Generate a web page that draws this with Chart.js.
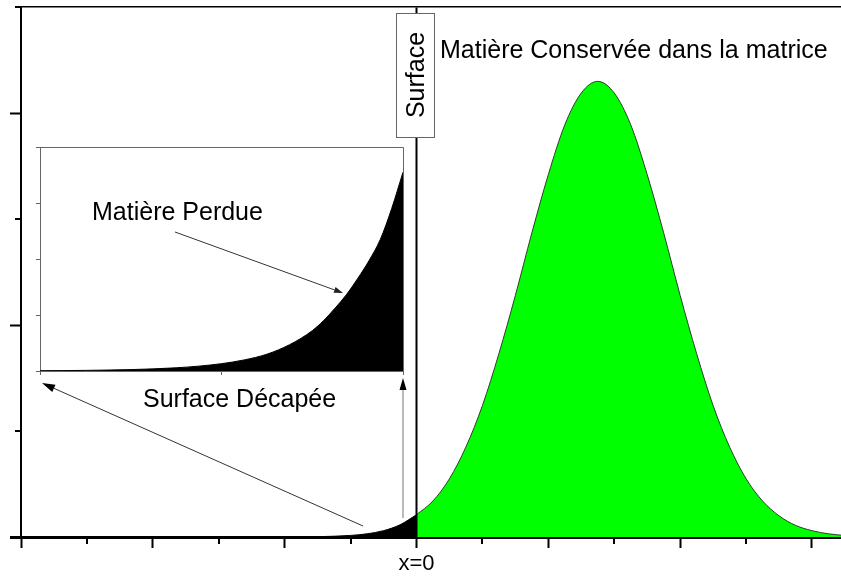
<!DOCTYPE html>
<html><head><meta charset="utf-8">
<script src="https://cdn.jsdelivr.net/npm/chart.js@4.4.1/dist/chart.umd.min.js"></script>
<style>
html,body{margin:0;padding:0;background:#fff;}
#wrap{position:relative;width:841px;height:576px;overflow:hidden;}
#main{position:absolute;left:0;top:0;}
#inset{position:absolute;left:20px;top:130px;}
</style></head><body>
<div id="wrap"><canvas id="main" width="841" height="576"></canvas><canvas id="inset" width="400" height="260"></canvas></div>
<script>
const FONT = '"Liberation Sans", Arial, sans-serif';

// Main profile: part kept in the matrix (x >= 0)
const conservedX = [0,0.25,0.5,0.75,1,1.25,1.5,1.75,2,2.25,2.5,2.75,3,3.25,3.5,3.75,4,4.25,4.5,4.75,5,5.25,5.5,5.75,6,6.25,6.5];
const conservedY = [0.21,0.34,0.55,0.85,1.24,1.73,2.28,2.87,3.42,3.89,4.19,4.30,4.19,3.89,3.42,2.87,2.28,1.73,1.24,0.85,0.55,0.34,0.20,0.11,0.06,0.03,0.014];
// Main profile: part lost (x <= 0)
const lostX = [-3,-2,-1.5,-1,-0.75,-0.5,-0.25,0];
const lostY = [0,0.0005,0.003,0.015,0.03,0.06,0.115,0.21];
// Surface line x = 0
const surfaceX = [0,0];
const surfaceY = [0,5];
// Tick labels / minor ticks of main axes
const xTickLabels = ['','','','x=0','','',''];
const xMinorTicks = [-5,-3,-1,1,3,5];
const yMinorTicks = [1,3,5];

// Inset: zoom on the lost tail
const insetX = [-2,-1.875,-1.75,-1.625,-1.5,-1.375,-1.25,-1.125,-1,-0.875,-0.75,-0.625,-0.5,-0.4375,-0.375,-0.3125,-0.25,-0.1875,-0.125,-0.0625,0];
const insetY = [0.005,0.007,0.011,0.017,0.025,0.038,0.057,0.087,0.131,0.198,0.30,0.47,0.72,0.90,1.12,1.36,1.65,1.97,2.35,2.90,3.55];

const pts = (xs, ys) => xs.map((x, i) => ({x: x, y: ys[i]}));

function arrow(ctx, x1, y1, x2, y2, lineColor, headColor, headLen, headW) {
  const ang = Math.atan2(y2 - y1, x2 - x1);
  const bx = x2 - headLen * Math.cos(ang), by = y2 - headLen * Math.sin(ang);
  ctx.strokeStyle = lineColor; ctx.lineWidth = 1;
  ctx.beginPath(); ctx.moveTo(x1, y1); ctx.lineTo(bx, by); ctx.stroke();
  ctx.fillStyle = headColor;
  ctx.beginPath(); ctx.moveTo(x2, y2);
  ctx.lineTo(bx + headW * Math.sin(ang), by - headW * Math.cos(ang));
  ctx.lineTo(bx - headW * Math.sin(ang), by + headW * Math.cos(ang));
  ctx.closePath(); ctx.fill();
}

const mainDecor = {
  id: 'mainDecor',
  afterDraw(chart) {
    const {ctx, scales: {x, y}, chartArea: a} = chart;
    ctx.save();
    ctx.strokeStyle = '#000'; ctx.lineWidth = 2;
    xMinorTicks.forEach(v => {
      const px = Math.round(x.getPixelForValue(v));
      ctx.beginPath(); ctx.moveTo(px, a.bottom); ctx.lineTo(px, a.bottom + 7); ctx.stroke();
    });
    yMinorTicks.forEach(v => {
      const py = Math.round(y.getPixelForValue(v));
      ctx.beginPath(); ctx.moveTo(a.left, py); ctx.lineTo(a.left - 6, py); ctx.stroke();
    });
    // Surface box
    const x0 = x.getPixelForValue(0);
    ctx.fillStyle = '#fff';
    ctx.fillRect(x0 - 20, 13, 38, 124);
    ctx.strokeStyle = '#666'; ctx.lineWidth = 1;
    ctx.strokeRect(Math.round(x0 - 20) + 0.5, 13.5, 38, 124);
    ctx.fillStyle = '#000';
    ctx.font = '25px ' + FONT;
    ctx.save(); ctx.translate(x0 + 8, 75); ctx.rotate(-Math.PI / 2);
    ctx.textAlign = 'center'; ctx.textBaseline = 'alphabetic';
    ctx.fillText('Surface', 0, 0); ctx.restore();
    ctx.textAlign = 'left'; ctx.textBaseline = 'alphabetic';
    ctx.fillText('Matière Conservée dans la matrice', 440, 58);
    ctx.fillText('Surface Décapée', 143, 407);
    // arrows
    arrow(ctx, 363, 526, 42, 383, '#333', '#000', 13, 4);
    arrow(ctx, 403, 518, 403, 378, '#777', '#000', 12, 3.5);
    ctx.restore();
  }
};

new Chart(document.getElementById('main'), {
  type: 'line',
  data: {datasets: [
    {data: pts(surfaceX, surfaceY), borderColor: '#000', borderWidth: 2, pointRadius: 0, fill: false},
    {data: pts(conservedX, conservedY), borderColor: '#2b3f2b', borderWidth: 1, backgroundColor: '#00ff00', fill: 'origin', pointRadius: 0, cubicInterpolationMode: 'monotone'},
    {data: pts(lostX, lostY), borderColor: '#000', borderWidth: 1, backgroundColor: '#000', fill: 'origin', pointRadius: 0, cubicInterpolationMode: 'monotone'}
  ]},
  options: {
    responsive: false, animation: false, devicePixelRatio: 1,
    layout: {padding: 0},
    plugins: {legend: {display: false}, tooltip: {enabled: false}},
    scales: {
      x: {type: 'linear', position: 'bottom', min: -6, max: 6.44, z: 1,
          afterFit: s => { s.height = 39; },
          ticks: {stepSize: 2, includeBounds: false, autoSkip: false, maxRotation: 0, padding: 3, color: '#000',
                  font: {family: FONT, size: 22}, callback: (v, i) => xTickLabels[i] || ''},
          grid: {drawOnChartArea: false, tickLength: 11, tickWidth: 2, tickColor: '#000'},
          border: {display: true, color: '#000', width: 3}},
      xTop: {type: 'linear', position: 'top', min: -6, max: 6.44,
          afterFit: s => { s.height = 7; },
          ticks: {display: false}, grid: {display: false},
          border: {display: true, color: '#000', width: 1.5}},
      y: {type: 'linear', min: 0, max: 5, z: 1,
          afterFit: s => { s.width = 21; },
          ticks: {stepSize: 2, includeBounds: false, padding: 0, callback: () => ''},
          grid: {drawOnChartArea: false, tickLength: 11, tickColor: '#000',
                 tickWidth: c => (c.tick && c.tick.value === 0) ? 3 : 2},
          border: {display: true, color: '#000', width: 2}}
    }
  },
  plugins: [mainDecor]
});

const insetDecor = {
  id: 'insetDecor',
  afterDraw(chart) {
    const {ctx, chartArea: a} = chart;
    ctx.save();
    ctx.strokeStyle = '#666'; ctx.lineWidth = 1;
    ctx.beginPath();
    ctx.moveTo(a.left, a.top + 0.5); ctx.lineTo(a.right + 0.5, a.top + 0.5); ctx.lineTo(a.right + 0.5, a.bottom);
    ctx.stroke();
    ctx.fillStyle = '#000';
    ctx.font = '25px ' + FONT;
    ctx.textAlign = 'left'; ctx.textBaseline = 'alphabetic';
    ctx.fillText('Matière Perdue', 72, 90);
    arrow(ctx, 155, 102, 323, 163, '#333', '#222', 9, 3);
    ctx.restore();
  }
};

new Chart(document.getElementById('inset'), {
  type: 'line',
  data: {datasets: [
    {data: pts(insetX, insetY), borderColor: '#000', borderWidth: 1, backgroundColor: '#000', fill: 'origin', pointRadius: 0, cubicInterpolationMode: 'monotone'}
  ]},
  options: {
    responsive: false, animation: false, devicePixelRatio: 1,
    layout: {padding: {left: 0, top: 17, right: 17, bottom: 0}},
    plugins: {legend: {display: false}, tooltip: {enabled: false}},
    scales: {
      x: {type: 'linear', min: -2, max: 0, z: 1,
          afterFit: s => { s.height = 19; },
          ticks: {stepSize: 1, callback: () => ''},
          grid: {drawOnChartArea: false, tickLength: 4, tickWidth: 1, tickColor: '#666'},
          border: {display: true, color: '#666', width: 1}},
      y: {type: 'linear', min: 0, max: 4, z: 1,
          afterFit: s => { s.width = 20; },
          ticks: {stepSize: 1, callback: () => ''},
          grid: {drawOnChartArea: false, tickLength: 4, tickWidth: 1, tickColor: '#666'},
          border: {display: true, color: '#666', width: 1}}
    }
  },
  plugins: [insetDecor]
});
</script>
</body></html>
